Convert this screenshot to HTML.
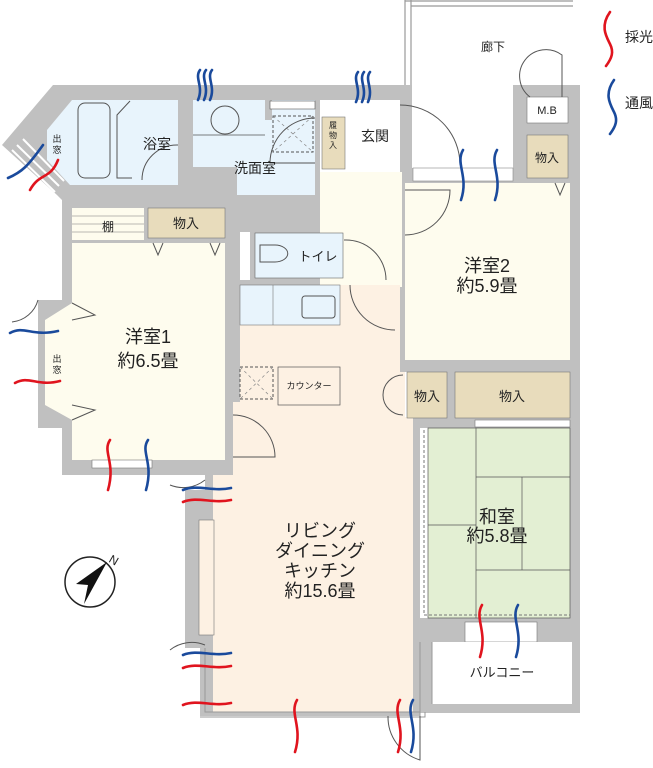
<!DOCTYPE html>
<html><head><meta charset="utf-8"><style>
html,body{margin:0;padding:0;background:#fff;width:653px;height:768px;overflow:hidden}
svg{display:block}
text{font-family:"Liberation Sans","Noto Sans CJK JP",sans-serif;fill:#222}
</style></head><body>
<svg width="653" height="768" viewBox="0 0 653 768" xmlns="http://www.w3.org/2000/svg">
<path d="M405 0 V168 M411 0 V162 M405 1 H573 M411 6 H573" stroke="#999" stroke-width="1.2" fill="none"/>
<polygon fill="#c0c0c0" points="53,85 412,85 412,168 513,168 513,85 580,85 580,713 420,713 420,716 200,716 200,648 185,648 185,490 205,490 205,475 62,475 62,428 38,428 38,300 62,300 62,200 57,195 2,145"/>
<rect x="413" y="84" width="99" height="82" fill="#fff"/>
<polygon fill="#e8f4fc" points="72,100 178,100 178,185 70,185 47,160 47,130"/>
<rect x="78" y="103" width="32" height="75" rx="7" fill="none" stroke="#555"/>
<path d="M130 101 L117 115 V178 H132" fill="none" stroke="#555"/>
<path d="M178 145 A35 35 0 0 0 142 180" fill="none" stroke="#555"/>
<path d="M12 150 L55 192 M17 145 L59 186 M23 139 L64 181" stroke="#fff" stroke-width="2"/>
<polygon fill="#e8f4fc" points="193,100 265,100 265,120 272,120 272,100 315,100 315,195 237,195 237,167 193,167"/>
<rect x="270" y="101" width="45" height="8" fill="#fff" stroke="#555" stroke-width="0.6"/>
<circle cx="225" cy="120" r="14" fill="none" stroke="#555"/>
<line x1="193" y1="135" x2="265" y2="135" stroke="#555" stroke-width="0.7"/>
<rect x="273" y="116" width="40" height="36" fill="none" stroke="#555" stroke-dasharray="3 2"/>
<path d="M273 116 L313 152 M313 116 L273 152" stroke="#888" stroke-dasharray="3 3" stroke-width="0.7"/>
<path d="M315 118 A45 45 0 0 0 270 163 H315" fill="none" stroke="#555"/>
<rect x="320" y="100" width="80" height="72" fill="#fff"/>
<rect x="322" y="117" width="23" height="52" fill="#e8dcbc" stroke="#777" stroke-width="0.6"/>
<rect x="320" y="172" width="82" height="115" fill="#fefcee"/>
<path d="M400 105 A60 60 0 0 1 460 165" fill="none" stroke="#555"/>
<rect x="240" y="232" width="10" height="48" fill="#fff"/>
<rect x="255" y="233" width="88" height="45" fill="#e8f4fc" stroke="#666" stroke-width="0.6"/>
<path d="M260 245 H275 A12 8 0 0 1 275 262 H260 Z" fill="none" stroke="#555"/>
<path d="M344 240 A40 40 0 0 1 386 280" fill="none" stroke="#555"/>
<polygon fill="#fdf1e3" points="240,285 400,285 400,372 413,372 413,712 213,712 213,475 233,475 233,402 240,402"/>
<rect x="240" y="285" width="100" height="40" fill="#e8f4fc" stroke="#777" stroke-width="0.6"/>
<line x1="273" y1="285" x2="273" y2="325" stroke="#777" stroke-width="0.6"/>
<rect x="302" y="296" width="33" height="22" rx="3" fill="none" stroke="#555"/>
<path d="M350 285 A45 45 0 0 0 395 330" fill="none" stroke="#555"/>
<rect x="240" y="367" width="33" height="32" fill="#fdf1e3" stroke="#555" stroke-dasharray="3 2"/>
<path d="M240 367 L273 399 M273 367 L240 399" stroke="#888" stroke-dasharray="3 3" stroke-width="0.7"/>
<rect x="278" y="367" width="62" height="38" fill="#fdf1e3" stroke="#555" stroke-width="0.7"/>
<path d="M233 415 A42 42 0 0 1 275 457 H233" fill="none" stroke="#555"/>
<rect x="199" y="520" width="15" height="115" fill="#fdf1e3" stroke="#777" stroke-width="0.6"/>
<path d="M205 480 A35 35 0 0 1 170 485 M205 645 A35 35 0 0 0 170 650" fill="none" stroke="#555"/>
<path d="M205 648 V712 H420 M200 717 H425 V712" fill="none" stroke="#999"/>
<path d="M388 716 A45 45 0 0 0 420 760 V716" fill="none" stroke="#555"/>
<rect x="72" y="208" width="72" height="32" fill="#fefcee"/>
<path d="M72 216 H144 M72 224 H144 M72 232 H144" stroke="#777" stroke-width="0.6"/>
<rect x="148" y="208" width="77" height="30" fill="#e8dcbc" stroke="#777" stroke-width="0.6"/>
<polygon fill="#fefcee" points="72,243 225,243 225,460 72,460 72,420 45,405 45,320 72,303"/>
<path d="M153 243 L158 255 L163 243 M210 243 L215 255 L220 243" fill="none" stroke="#555"/>
<path d="M72 303 L95 315 L72 320 M72 405 L95 410 L72 420" fill="none" stroke="#555"/>
<path d="M12 322 A30 30 0 0 0 38 300" fill="none" stroke="#555"/>
<rect x="92" y="460" width="60" height="8" fill="#fff" stroke="#777" stroke-width="0.6"/>
<rect x="405" y="183" width="165" height="177" fill="#fefcee"/>
<rect x="413" y="168" width="100" height="13" fill="#fff" stroke="#888" stroke-width="0.6"/>
<path d="M405 190 H450 A45 45 0 0 1 405 235" fill="none" stroke="#555"/>
<path d="M555 183 L560 195 L565 183" fill="none" stroke="#555"/>
<rect x="527" y="135" width="41" height="43" fill="#e8dcbc" stroke="#777" stroke-width="0.6"/>
<rect x="527" y="97" width="41" height="26" fill="#fff" stroke="#777" stroke-width="0.6"/>
<path d="M530 97 A25 25 0 0 1 562 55 V97" fill="none" stroke="#555"/>
<rect x="405" y="372" width="7" height="45" fill="#fff"/>
<path d="M403 375 A20 20 0 0 0 383 395 M403 415 A20 20 0 0 1 383 395" fill="none" stroke="#555"/>
<rect x="407" y="372" width="40" height="46" fill="#e8dcbc" stroke="#777" stroke-width="0.6"/>
<rect x="455" y="372" width="115" height="46" fill="#e8dcbc" stroke="#777" stroke-width="0.6"/>
<rect x="475" y="420" width="95" height="7" fill="#fff" stroke="#777" stroke-width="0.6"/>
<rect x="420" y="428" width="12" height="190" fill="#fff"/>
<rect x="428" y="428" width="142" height="190" fill="#e3efd3" stroke="#555" stroke-width="0.7"/>
<path d="M476 428 V618 M476 477 H570 M476 570 H570 M522 477 V570 M428 525 H476" stroke="#555" stroke-width="0.7" fill="none"/>
<path d="M424 430 V615 H570" stroke="#777" stroke-dasharray="3 2" fill="none"/>
<rect x="465" y="622" width="72" height="20" fill="#fff" stroke="#777" stroke-width="0.6"/>
<rect x="432" y="642" width="140" height="62" fill="#fff"/>
<path d="M432 704 V642 M420 642 V716" stroke="#999" fill="none"/>
<g fill="none" stroke="#e0141e" stroke-width="2.6" stroke-linecap="round">
<path d="M610 12 c-10 14 -4 24 0 32 c4 8 2 14 -4 22"/>
<path d="M30 190 c10 -18 20 -10 28 -30"/>
<path d="M15 383 c14 -8 22 4 45 -2"/>
<path d="M110 440 c-8 12 6 22 -2 50"/>
<path d="M183 502 c14 -6 30 2 48 -2"/>
<path d="M183 668 c14 -6 30 2 48 -2"/>
<path d="M183 705 c14 -6 30 2 48 -2"/>
<path d="M297 700 c-8 14 6 26 -2 52"/>
<path d="M400 700 c-8 14 6 26 -2 52"/>
<path d="M482 605 c-8 14 6 26 -2 52"/>
</g>
<g fill="none" stroke="#1a4a9c" stroke-width="2.6" stroke-linecap="round">
<path d="M614 80 c-10 14 -4 24 0 32 c4 8 2 14 -4 22"/>
<path d="M200 70 c-6 8 4 16 -2 30 M206 70 c-6 8 4 16 -2 30 M212 70 c-6 8 4 16 -2 30"/>
<path d="M358 72 c-6 8 4 16 -2 30 M364 72 c-6 8 4 16 -2 30 M370 72 c-6 8 4 16 -2 30"/>
<path d="M463 150 c-8 14 6 26 -2 50"/>
<path d="M497 150 c-8 14 6 26 -2 50"/>
<path d="M8 178 c14 -6 20 -12 35 -33"/>
<path d="M10 333 c14 -8 22 4 48 -2"/>
<path d="M148 440 c-8 12 6 22 -2 50"/>
<path d="M183 490 c14 -6 30 2 48 -2"/>
<path d="M183 655 c14 -6 30 2 48 -2"/>
<path d="M413 700 c-8 14 6 26 -2 52"/>
<path d="M518 605 c-8 14 6 26 -2 52"/>
</g>
<circle cx="90" cy="582" r="25" fill="#fff" stroke="#222" stroke-width="1.5"/>
<polygon points="107,562 84,604 88,585 76,584" fill="#111"/>
<text x="110" y="562" font-size="12" transform="rotate(30 110 558)">N</text>
<text x="625" y="42" font-size="14">採光</text>
<text x="625" y="108" font-size="14">通風</text>
<text x="493" y="51" font-size="12" text-anchor="middle">廊下</text>
<text x="547" y="114" font-size="11" text-anchor="middle">M.B</text>
<text x="547" y="162" font-size="12" text-anchor="middle">物入</text>
<text x="375" y="141" font-size="14" text-anchor="middle">玄関</text>
<text x="333" y="128" font-size="8" text-anchor="middle">履</text>
<text x="333" y="138" font-size="8" text-anchor="middle">物</text>
<text x="333" y="148" font-size="8" text-anchor="middle">入</text>
<text x="157" y="149" font-size="14" text-anchor="middle">浴室</text>
<text x="57" y="142" font-size="9" text-anchor="middle">出</text>
<text x="57" y="153" font-size="9" text-anchor="middle">窓</text>
<text x="255" y="173" font-size="14" text-anchor="middle">洗面室</text>
<text x="108" y="231" font-size="12" text-anchor="middle">棚</text>
<text x="186" y="228" font-size="13" text-anchor="middle">物入</text>
<text x="318" y="261" font-size="13" text-anchor="middle">トイレ</text>
<text x="148" y="343" font-size="18" text-anchor="middle">洋室1</text>
<text x="148" y="367" font-size="18" text-anchor="middle">約6.5畳</text>
<text x="57" y="362" font-size="9" text-anchor="middle">出</text>
<text x="57" y="373" font-size="9" text-anchor="middle">窓</text>
<text x="309" y="389" font-size="9" text-anchor="middle">カウンター</text>
<text x="487" y="272" font-size="18" text-anchor="middle">洋室2</text>
<text x="487" y="292" font-size="18" text-anchor="middle">約5.9畳</text>
<text x="427" y="401" font-size="13" text-anchor="middle">物入</text>
<text x="512" y="401" font-size="13" text-anchor="middle">物入</text>
<text x="320" y="537" font-size="18" text-anchor="middle">リビング</text>
<text x="320" y="557" font-size="18" text-anchor="middle">ダイニング</text>
<text x="320" y="577" font-size="18" text-anchor="middle">キッチン</text>
<text x="320" y="597" font-size="18" text-anchor="middle">約15.6畳</text>
<text x="497" y="523" font-size="18" text-anchor="middle">和室</text>
<text x="497" y="542" font-size="18" text-anchor="middle">約5.8畳</text>
<text x="502" y="677" font-size="13" text-anchor="middle">バルコニー</text>
</svg>
</body></html>
